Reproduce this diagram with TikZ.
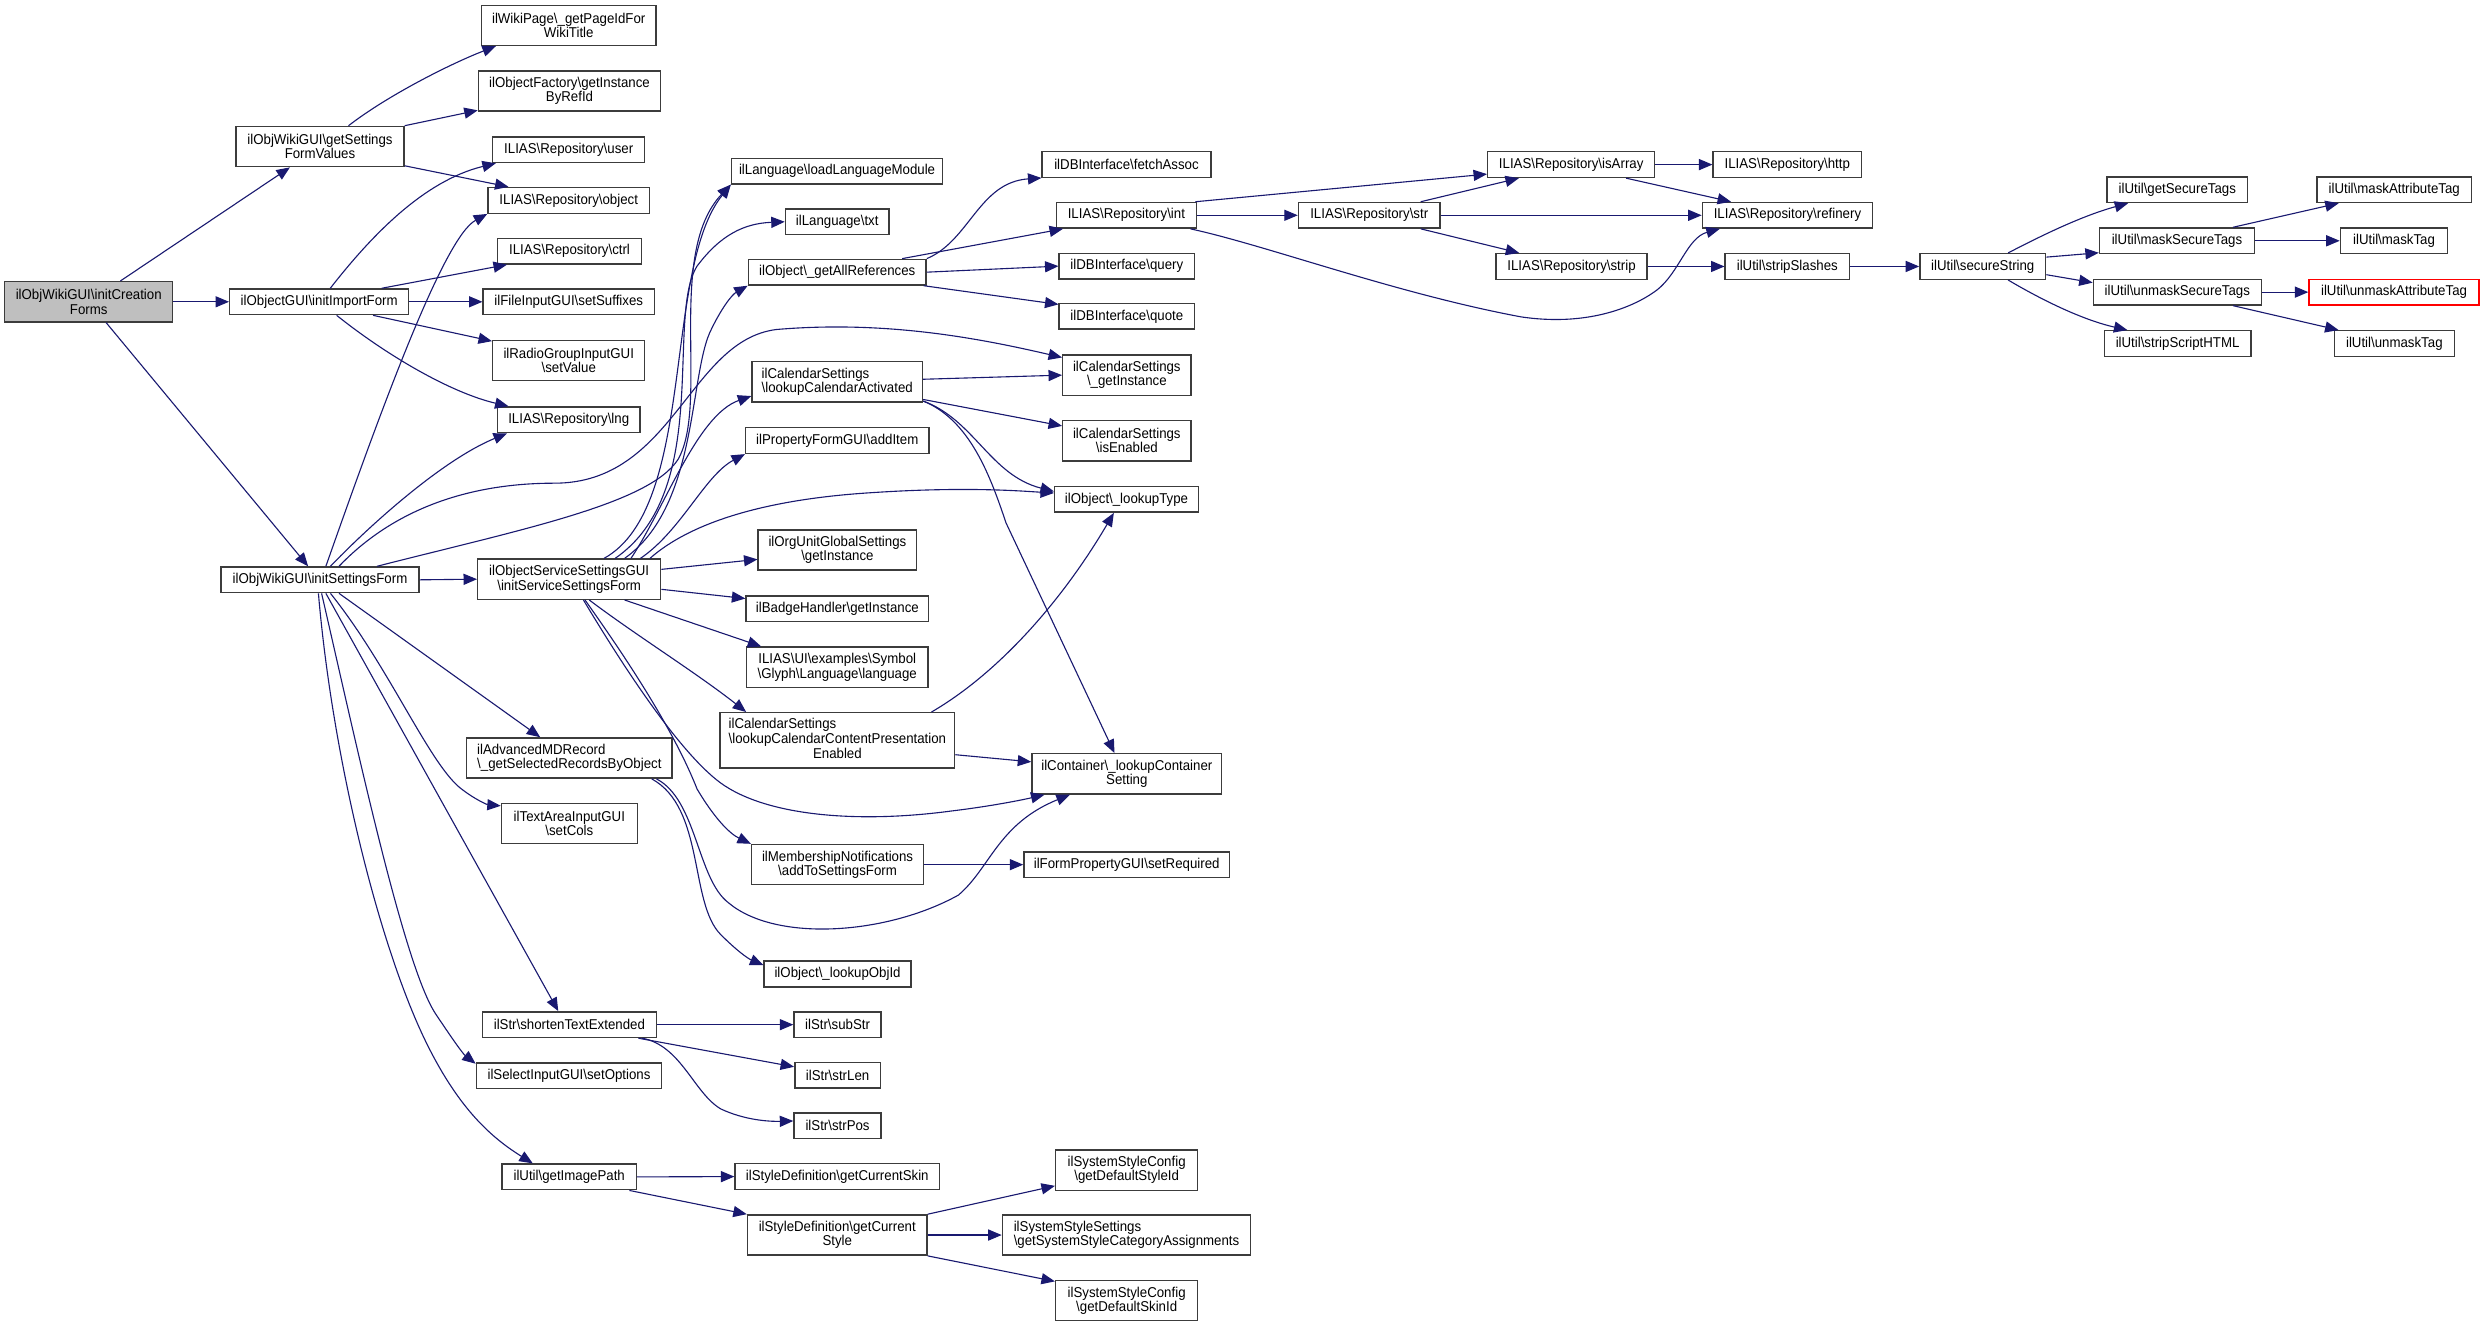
\documentclass[tikz,border=0pt]{standalone}
\usepackage{fontspec}
\setmainfont{Liberation Sans}[FakeStretch=0.93]
\usetikzlibrary{arrows.meta}
\definecolor{edgecol}{RGB}{25,25,112}
\definecolor{nodeborder}{RGB}{60,60,60}
\definecolor{rootfill}{RGB}{191,191,191}
\newcommand{\BSL}{\textbackslash}
\begin{document}
\begin{tikzpicture}[x=1pt,y=-1pt,
  fnode/.style={draw=nodeborder, line width=0.9pt, fill=white, inner sep=0pt, align=center,
    font=\fontsize{9}{9}\selectfont, minimum height=16.2pt},
  two/.style={minimum height=25.4pt},
  lft/.style={align=left},
  call/.style={draw=edgecol, line width=0.7pt, -{Triangle[length=8.5pt,width=7pt,fill=edgecol]}}]
\fill[white] (0,0) rectangle (1568,838);
\useasboundingbox (0,0) rectangle (1568,838);
% column 1-2
\node[fnode,two,fill=rootfill,minimum width=106pt] (ic) at (56,190.5) {ilObjWikiGUI\BSL initCreation\\Forms};
\node[fnode,two,minimum width=106pt] (gsf) at (202,92.5) {ilObjWikiGUI\BSL getSettings\\FormValues};
\node[fnode,minimum width=113pt] (iif) at (201.5,190.5) {ilObjectGUI\BSL initImportForm};
\node[fnode,minimum width=125pt] (isf) at (202,366) {ilObjWikiGUI\BSL initSettingsForm};
% column 3
\node[fnode,two,minimum width=110pt] (wiki) at (359,16) {ilWikiPage\BSL\_getPageIdFor\\WikiTitle};
\node[fnode,two,minimum width=115pt] (fact) at (359.5,57.5) {ilObjectFactory\BSL getInstance\\ByRefId};
\node[fnode,minimum width=96pt] (user) at (359,94.5) {ILIAS\BSL Repository\BSL user};
\node[fnode,minimum width=102pt] (obj) at (359,126.5) {ILIAS\BSL Repository\BSL object};
\node[fnode,minimum width=91pt] (ctrl) at (359.5,158.5) {ILIAS\BSL Repository\BSL ctrl};
\node[fnode,minimum width=108pt] (suf) at (359,190.5) {ilFileInputGUI\BSL setSuffixes};
\node[fnode,two,minimum width=96pt] (radio) at (359,227.5) {ilRadioGroupInputGUI\\\BSL setValue};
\node[fnode,minimum width=90pt] (lng) at (359,265) {ILIAS\BSL Repository\BSL lng};
\node[fnode,two,minimum width=115.5pt] (iss) at (359.3,365.6) {ilObjectServiceSettingsGUI\\\BSL initServiceSettingsForm};
\node[fnode,two,lft,minimum width=129.7pt] (adv) at (359.4,478.5) {ilAdvancedMDRecord\\\BSL\_getSelectedRecordsByObject};
\node[fnode,two,minimum width=85.7pt] (cols) at (359.4,519.8) {ilTextAreaInputGUI\\\BSL setCols};
\node[fnode,minimum width=110pt] (ste) at (359.4,646.8) {ilStr\BSL shortenTextExtended};
\node[fnode,minimum width=117pt] (opt) at (359.2,679) {ilSelectInputGUI\BSL setOptions};
\node[fnode,minimum width=84.6pt] (gip) at (359.3,742.9) {ilUtil\BSL getImagePath};
% column 4
\node[fnode,minimum width=133.3pt] (llm) at (528.4,108) {ilLanguage\BSL loadLanguageModule};
\node[fnode,minimum width=65.4pt] (txt) at (528.5,140) {ilLanguage\BSL txt};
\node[fnode,minimum width=112.2pt] (gar) at (528.5,171.8) {ilObject\BSL\_getAllReferences};
\node[fnode,two,lft,minimum width=107.6pt] (lca) at (528.5,241) {ilCalendarSettings\\\BSL lookupCalendarActivated};
\node[fnode,minimum width=115.6pt] (addi) at (528.5,278.1) {ilPropertyFormGUI\BSL addItem};
\node[fnode,two,minimum width=100pt] (org) at (528.6,347.2) {ilOrgUnitGlobalSettings\\\BSL getInstance};
\node[fnode,minimum width=115.3pt] (bh) at (528.6,384.3) {ilBadgeHandler\BSL getInstance};
\node[fnode,two,minimum width=114.4pt] (glyph) at (528.5,421.2) {ILIAS\BSL UI\BSL examples\BSL Symbol\\\BSL Glyph\BSL Language\BSL language};
\node[fnode,minimum width=148pt,minimum height=35pt] (lccpe) at (528.6,467.4) {\renewcommand{\arraystretch}{1}\begin{tabular}{@{}l@{}}ilCalendarSettings\\\BSL lookupCalendarContentPresentation\\\multicolumn{1}{@{}c@{}}{Enabled}\end{tabular}};
\node[fnode,two,minimum width=108.5pt] (mn) at (528.7,545.8) {ilMembershipNotifications\\\BSL addToSettingsForm};
\node[fnode,minimum width=92.7pt] (loi) at (528.7,614.8) {ilObject\BSL\_lookupObjId};
\node[fnode,minimum width=55pt] (sub) at (528.7,646.8) {ilStr\BSL subStr};
\node[fnode,minimum width=54pt] (slen) at (528.7,678.8) {ilStr\BSL strLen};
\node[fnode,minimum width=55pt] (spos) at (528.7,710.6) {ilStr\BSL strPos};
\node[fnode,minimum width=129pt] (gcsk) at (528.5,742.7) {ilStyleDefinition\BSL getCurrentSkin};
\node[fnode,two,minimum width=113.3pt] (gcs) at (528.5,779.6) {ilStyleDefinition\BSL getCurrent\\Style};
% column 5
\node[fnode,minimum width=106.5pt] (fa) at (711.1,103.8) {ilDBInterface\BSL fetchAssoc};
\node[fnode,minimum width=88.2pt] (int) at (711,135.9) {ILIAS\BSL Repository\BSL int};
\node[fnode,minimum width=85.4pt] (qry) at (711.3,168) {ilDBInterface\BSL query};
\node[fnode,minimum width=85.4pt] (quo) at (711.3,199.7) {ilDBInterface\BSL quote};
\node[fnode,two,minimum width=80.9pt] (gi) at (711.3,236.8) {ilCalendarSettings\\\BSL\_getInstance};
\node[fnode,two,minimum width=80.9pt] (ie) at (711.3,278.2) {ilCalendarSettings\\\BSL isEnabled};
\node[fnode,minimum width=90.7pt] (lt) at (711.1,315.2) {ilObject\BSL\_lookupType};
\node[fnode,two,minimum width=119.8pt] (ilc) at (711.3,488.5) {ilContainer\BSL\_lookupContainer\\Setting};
\node[fnode,minimum width=129.7pt] (req) at (711.2,545.8) {ilFormPropertyGUI\BSL setRequired};
\node[fnode,two,minimum width=89.7pt] (dsi) at (711.2,738.6) {ilSystemStyleConfig\\\BSL getDefaultStyleId};
\node[fnode,two,lft,minimum width=156.7pt] (sss) at (711.1,779.6) {ilSystemStyleSettings\\\BSL getSystemStyleCategoryAssignments};
\node[fnode,two,minimum width=89.7pt] (dski) at (711.2,821) {ilSystemStyleConfig\\\BSL getDefaultSkinId};
% right part
\node[fnode,minimum width=89.3pt] (str) at (864.3,135.9) {ILIAS\BSL Repository\BSL str};
\node[fnode,minimum width=105.4pt] (isa) at (991.8,103.9) {ILIAS\BSL Repository\BSL isArray};
\node[fnode,minimum width=95.5pt] (strip) at (992,168.2) {ILIAS\BSL Repository\BSL strip};
\node[fnode,minimum width=93.6pt] (http) at (1128.2,103.9) {ILIAS\BSL Repository\BSL http};
\node[fnode,minimum width=107.4pt] (ref) at (1128.3,135.9) {ILIAS\BSL Repository\BSL refinery};
\node[fnode,minimum width=78.4pt] (ssl) at (1128.2,168.2) {ilUtil\BSL stripSlashes};
\node[fnode,minimum width=79.4pt] (ss) at (1251.6,168.2) {ilUtil\BSL secureString};
\node[fnode,minimum width=88.8pt] (gst) at (1374.4,119.7) {ilUtil\BSL getSecureTags};
\node[fnode,minimum width=97.8pt] (mst) at (1374.2,152) {ilUtil\BSL maskSecureTags};
\node[fnode,minimum width=106pt] (ust) at (1374.4,184.4) {ilUtil\BSL unmaskSecureTags};
\node[fnode,minimum width=92.7pt] (ssh) at (1374.6,216.9) {ilUtil\BSL stripScriptHTML};
\node[fnode,minimum width=97.6pt] (mat) at (1511.3,119.7) {ilUtil\BSL maskAttributeTag};
\node[fnode,minimum width=67.7pt] (mtag) at (1511.2,152) {ilUtil\BSL maskTag};
\node[fnode,draw=red,minimum width=107.3pt] (uat) at (1511.2,184.4) {ilUtil\BSL unmaskAttributeTag};
\node[fnode,minimum width=75.9pt] (ut) at (1511.4,216.9) {ilUtil\BSL unmaskTag};
% edges: root
\draw[call] ([xshift=20pt]ic.north) -- ([xshift=-19pt]gsf.south);
\draw[call] (ic.east) -- (iif.west);
\draw[call] ([xshift=11pt]ic.south) -- ([xshift=-7.5pt]isf.north);
% getSettingsFormValues
\draw[call] ([xshift=18pt]gsf.north) .. controls (245,60) and (285,40) .. ([xshift=-46pt]wiki.south);
\draw[call] (gsf.north east) -- ([yshift=1pt]fact.south west);
\draw[call] ([yshift=1pt]gsf.south east) -- ([xshift=-38pt]obj.north);
% initImportForm
\draw[call] ([xshift=7pt]iif.north) .. controls (235,148) and (268,114) .. ([xshift=-46pt]user.south);
\draw[call] ([xshift=39.5pt]iif.north) -- ([xshift=-39.5pt]ctrl.south);
\draw[call] (iif.east) -- (suf.west);
\draw[call] ([xshift=34pt]iif.south) -- ([yshift=-1pt]radio.north west);
\draw[call] ([xshift=11pt]iif.south) .. controls (245,225) and (285,248) .. ([xshift=-38pt]lng.north);
% initSettingsForm
\draw[call] ([xshift=3.7pt]isf.north) .. controls (240,260) and (280,150) .. (obj.south west);
\draw[call] ([xshift=6.6pt]isf.north) .. controls (235,330) and (280,290) .. ([xshift=-39pt]lng.south);
\draw[call] ([xshift=12pt]isf.north) .. controls (245,325) and (290,305) .. (350,305) .. controls (425,305) and (435,215) .. (490,208) .. controls (560,202) and (620,214) .. ([yshift=-2pt]gi.north west);
\draw[call] ([xshift=36pt]isf.north) .. controls (330,334) and (410,318) .. (428,290) .. controls (448,255) and (420,160) .. (llm.south west);
\draw[call] (isf.east) -- (iss.west);
\draw[call] ([xshift=12pt]isf.south) -- ([xshift=-18.4pt]adv.north);
\draw[call] ([xshift=6.6pt]isf.south) .. controls (245,420) and (270,480) .. (290,497) .. controls (300,505) and (308,508) .. ([yshift=-2pt]cols.north west);
\draw[call] ([xshift=3.7pt]isf.south) -- ([xshift=-7pt]ste.north);
\draw[call] ([xshift=1pt]isf.south) .. controls (225,470) and (255,610) .. (275,640) .. controls (285,655) and (292,665) .. ([yshift=-1pt]opt.north west);
\draw[call] ([xshift=-1pt]isf.south) .. controls (210,480) and (240,600) .. (270,660) .. controls (290,700) and (310,718) .. ([xshift=-23pt]gip.north);
% initServiceSettingsForm
\draw[call] ([xshift=22pt]iss.north) .. controls (440,320) and (418,170) .. (llm.south west);
\draw[call] ([xshift=29pt]iss.north) .. controls (450,310) and (420,200) .. (440,168) .. controls (455,148) and (470,141) .. (txt.west);
\draw[call] ([xshift=35pt]iss.north) .. controls (440,320) and (435,240) .. (448,210) .. controls (455,195) and (462,186) .. (gar.south west);
\draw[call] ([xshift=39pt]iss.north) .. controls (420,320) and (440,262) .. ([yshift=-9pt]lca.west);
\draw[call] ([xshift=45pt]iss.north) .. controls (430,335) and (445,300) .. (addi.south west);
\draw[call] ([xshift=51pt]iss.north) .. controls (430,335) and (470,316) .. (550,311) .. controls (610,307) and (645,310) .. ([yshift=4pt]lt.west);
\draw[call] ([yshift=6.2pt]iss.east) -- ([yshift=-5.9pt]org.west);
\draw[call] ([yshift=-6.4pt]iss.east) -- ([yshift=6.5pt]bh.west);
\draw[call] ([xshift=35pt]iss.south) -- ([xshift=-48pt]glyph.north);
\draw[call] ([xshift=12.7pt]iss.south) .. controls (400,400) and (440,425) .. ([xshift=-57.6pt]lccpe.north);
\draw[call] ([xshift=10pt]iss.south) .. controls (395,415) and (425,460) .. (440,498) .. controls (450,515) and (460,526) .. (mn.north west);
\draw[call] ([xshift=9pt]iss.south) .. controls (390,415) and (425,470) .. (452,492) .. controls (480,515) and (540,520) .. (600,512) .. controls (625,509) and (645,505) .. ([xshift=-52pt]ilc.south);
% lookupCalendarActivated
\draw[call] ([yshift=1.6pt]lca.east) -- (gi.west);
\draw[call] ([yshift=2pt]lca.south east) -- ([yshift=-3.8pt]ie.north west);
\draw[call] ([yshift=1pt]lca.south east) .. controls (615,265) and (625,300) .. ([yshift=5pt]lt.west);
\draw[call] ([yshift=1pt]lca.south east) .. controls (612,265) and (625,300) .. (635,330) -- ([xshift=-7.8pt]ilc.north);
% lookupCalendarContentPresentationEnabled
\draw[call] ([xshift=59.4pt]lccpe.north) .. controls (630,425) and (670,380) .. ([xshift=-8pt]lt.south);
\draw[call] ([yshift=-9pt]lccpe.east) -- ([yshift=7.6pt]ilc.west);
% AdvancedMDRecord
\draw[call] ([xshift=55pt]adv.south) .. controls (440,505) and (440,555) .. (460,570) .. controls (490,595) and (560,590) .. (605,565) .. controls (625,548) and (630,520) .. ([xshift=-36pt]ilc.south);
\draw[call] ([xshift=52pt]adv.south) .. controls (445,510) and (435,570) .. (455,590) .. controls (465,600) and (472,605) .. ([yshift=-3pt]loi.north west);
% membership
\draw[call] (mn.east) -- (req.west);
% shortenTextExtended
\draw[call] (ste.east) -- (sub.west);
\draw[call] ([xshift=43.6pt]ste.south) -- ([yshift=5.4pt]slen.west);
\draw[call] ([xshift=46pt]ste.south) .. controls (430,660) and (438,690) .. (455,700) .. controls (470,707) and (485,708) .. ([yshift=3pt]spos.west);
% getImagePath
\draw[call] (gip.east) -- (gcsk.west);
\draw[call] ([xshift=38pt]gip.south) -- (gcs.north west);
\draw[call] (gcs.north east) -- ([yshift=3.2pt]dsi.south west);
\draw[call] (gcs.east) -- (sss.west);
\draw[call] (gcs.south east) -- ([yshift=-1pt]dski.north west);
% getAllReferences
\draw[call] (gar.north east) .. controls (612,152) and (618,115) .. (fa.south west);
\draw[call] ([xshift=41pt]gar.north) -- ([xshift=-40pt]int.south);
\draw[call] (gar.east) -- (qry.west);
\draw[call] ([xshift=-2pt]gar.south east) -- ([yshift=-1pt]quo.north west);
% Repository int/str
\draw[call] ([xshift=-1pt]int.north east) -- ([yshift=-6pt]isa.west);
\draw[call] (int.east) -- (str.west);
\draw[call] ([xshift=40.4pt]int.south) .. controls (800,155) and (880,185) .. (960,200) .. controls (1000,206) and (1030,195) .. (1046,183) .. controls (1060,172) and (1065,150) .. ([xshift=-42.7pt]ref.south);
\draw[call] ([xshift=32.5pt]str.north) -- ([xshift=-33pt]isa.south);
\draw[call] (str.east) -- (ref.west);
\draw[call] ([xshift=32.5pt]str.south) -- ([xshift=-33pt]strip.north);
\draw[call] (isa.east) -- (http.west);
\draw[call] ([xshift=34.6pt]isa.south) -- ([xshift=-35.6pt]ref.north);
\draw[call] (strip.east) -- (ssl.west);
\draw[call] (ssl.east) -- (ss.west);
% secureString
\draw[call] ([xshift=16pt]ss.north) .. controls (1290,148) and (1315,136) .. ([xshift=-31pt]gst.south);
\draw[call] ([yshift=5.9pt]ss.east) -- ([yshift=1pt]mst.south west);
\draw[call] ([yshift=-5.2pt]ss.east) -- ([yshift=6pt]ust.west);
\draw[call] ([xshift=16pt]ss.south) .. controls (1290,190) and (1315,202) .. ([xshift=-31.7pt]ssh.north);
\draw[call] ([xshift=35.4pt]mst.north) -- ([xshift=-35pt]mat.south);
\draw[call] (mst.east) -- (mtag.west);
\draw[call] (ust.east) -- (uat.west);
\draw[call] ([xshift=35.2pt]ust.south) -- ([xshift=-35.2pt]ut.north);
\end{tikzpicture}
\end{document}
